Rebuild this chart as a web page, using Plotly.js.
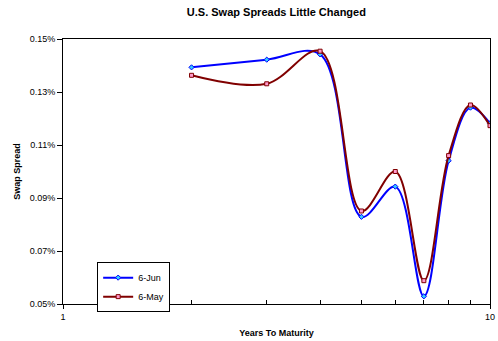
<!DOCTYPE html>
<html>
<head>
<meta charset="utf-8">
<script src="https://cdn.plot.ly/plotly-3.0.1.min.js"></script>
<style>
  html, body { margin: 0; padding: 0; background: #fff; }
  #chart { width: 498px; height: 341px; }
</style>
</head>
<body>
<div id="chart"></div>
<script>
// Years to maturity
const maturities = [2, 3, 4, 5, 6, 7, 8, 9, 10];
// Swap spreads, percent
const spreadJun6 = [0.1393, 0.1422, 0.1442, 0.0829, 0.0943, 0.0529, 0.1041, 0.1241, 0.1182];
const spreadMay6 = [0.1363, 0.1331, 0.1454, 0.0851, 0.1000, 0.0588, 0.1060, 0.1251, 0.1173];
const seriesNames = ['6-Jun', '6-May'];
const yTickVals = [0.05, 0.07, 0.09, 0.11, 0.13, 0.15];
const yTickText = ['0.05%', '0.07%', '0.09%', '0.11%', '0.13%', '0.15%'];

const traces = [
  {
    x: maturities, y: spreadJun6, name: seriesNames[0],
    type: 'scatter', mode: 'lines+markers',
    line: { color: '#0000FF', width: 2, shape: 'spline', smoothing: 1 },
    marker: { symbol: 'diamond', size: 4, color: '#33CCFF', line: { color: '#0000FF', width: 1 } }
  },
  {
    x: maturities, y: spreadMay6, name: seriesNames[1],
    type: 'scatter', mode: 'lines+markers',
    line: { color: '#800000', width: 2, shape: 'spline', smoothing: 1 },
    marker: { symbol: 'square', size: 4, color: '#FF99CC', line: { color: '#800000', width: 1 } }
  }
];

const axisFont = { family: 'Arial, Liberation Sans, sans-serif', size: 9, color: '#000' };
const boldFont = { family: 'Arial, Liberation Sans, sans-serif', size: 9, color: '#000', weight: 'bold' };

const layout = {
  width: 498, height: 341,
  margin: { l: 63, r: 8, t: 39, b: 37 },
  paper_bgcolor: '#fff', plot_bgcolor: '#fff',
  title: {
    text: '<b>U.S. Swap Spreads Little Changed</b>',
    font: { family: 'Arial, Liberation Sans, sans-serif', size: 11, color: '#000' },
    x: 0.555, xanchor: 'center', y: 0.965, yanchor: 'middle'
  },
  xaxis: {
    type: 'log', range: [0, 1],
    tickvals: [1, 10], ticktext: ['1', '10'],
    ticks: 'outside', ticklen: 4, tickcolor: '#000',
    minor: { tickvals: [2, 3, 4, 5, 6, 7, 8, 9], ticks: 'inside', ticklen: 4, tickcolor: '#000', showgrid: false },
    showgrid: false, zeroline: false,
    showline: true, linecolor: '#000', linewidth: 1, mirror: true,
    tickfont: axisFont,
    title: { text: '<b>Years To Maturity</b>', font: boldFont, standoff: 8 }
  },
  yaxis: {
    range: [0.05, 0.15],
    tickvals: yTickVals, ticktext: yTickText,
    ticks: 'outside', ticklen: 5, tickcolor: '#000',
    showgrid: false, zeroline: false,
    showline: true, linecolor: '#000', linewidth: 1, mirror: true,
    tickfont: axisFont,
    title: { text: '<b>Swap Spread</b>', font: boldFont, standoff: 7 }
  },
  legend: {
    x: 0.08, y: 0.158, xanchor: 'left', yanchor: 'top',
    bgcolor: '#fff', bordercolor: '#000', borderwidth: 1,
    font: axisFont, itemwidth: 30, tracegroupgap: 0
  },
  showlegend: true
};

Plotly.newPlot('chart', traces, layout, { displayModeBar: false, staticPlot: true });
</script>
</body>
</html>
